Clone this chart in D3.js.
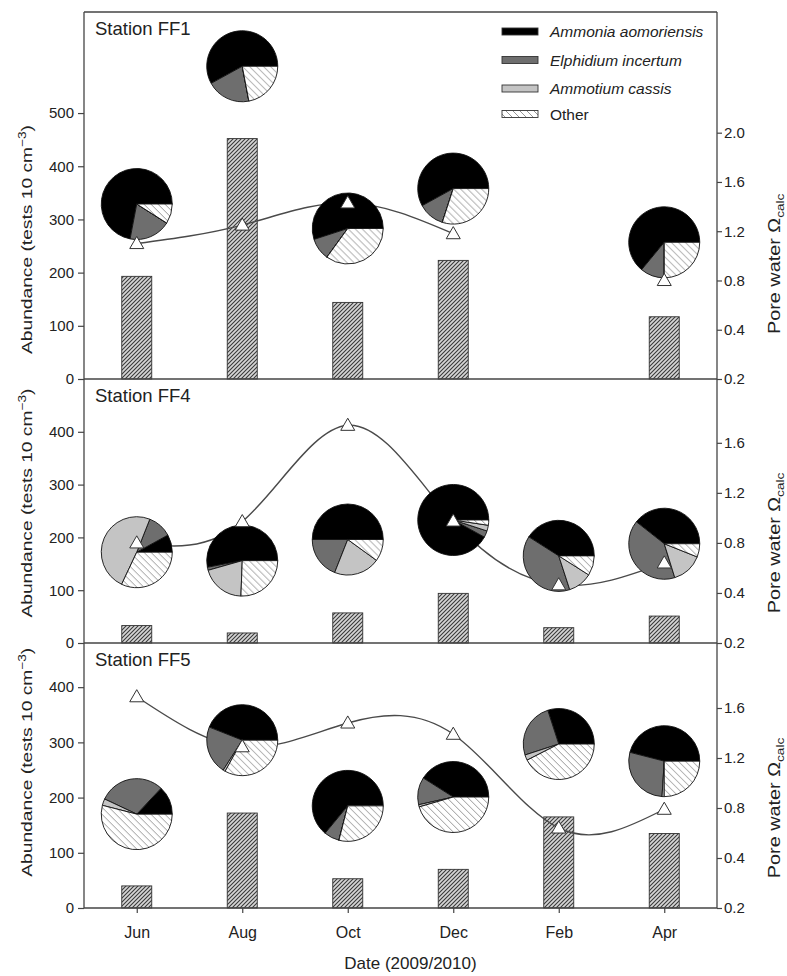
<!DOCTYPE html>
<html>
<head>
<meta charset="utf-8">
<script src="https://cdn.jsdelivr.net/npm/d3@7/dist/d3.min.js"></script>
<style>
  html, body { margin: 0; padding: 0; background: #fff; }
  svg { display: block; }
  text { font-family: "Liberation Sans", Arial, sans-serif; fill: #222; }
</style>
</head>
<body>
<svg id="chart" width="787" height="976"></svg>
<script>
// ---------------- DATA ----------------
const months = ["Jun", "Aug", "Oct", "Dec", "Feb", "Apr"];
const species = ["Ammonia aomoriensis", "Elphidium incertum", "Ammotium cassis", "Other"];
const stations = ["Station FF1", "Station FF4", "Station FF5"];

// Abundance (tests 10 cm-3), bars
const ff1Abundance = [193, 452, 144, 223, null, 117];
const ff4Abundance = [33, 19, 57, 94, 29, 51];
const ff5Abundance = [40, 172, 53, 70, 165, 135];

// Pore water Omega calc, triangles + spline
const ff1Omega = [1.10, 1.25, 1.43, 1.18, null, 0.80];
const ff4Omega = [0.80, 0.97, 1.74, 0.975, 0.465, 0.64];
const ff5Omega = [1.69, 1.29, 1.48, 1.39, 0.64, 0.79];

// Pie compositions: [Ammonia, Elphidium, Ammotium, Other]
const ff1Pies = [
  [0.72, 0.19, 0.00, 0.09],
  [0.58, 0.20, 0.00, 0.22],
  [0.55, 0.10, 0.00, 0.35],
  [0.58, 0.12, 0.00, 0.30],
  null,
  [0.64, 0.11, 0.00, 0.25]
];
const ff4Pies = [
  [0.08, 0.11, 0.49, 0.32],
  [0.53, 0.014, 0.20, 0.256],
  [0.50, 0.19, 0.21, 0.10],
  [0.92, 0.03, 0.026, 0.024],
  [0.41, 0.39, 0.11, 0.09],
  [0.39, 0.40, 0.14, 0.06]
];
const ff5Pies = [
  [0.13, 0.30, 0.03, 0.54],
  [0.44, 0.22, 0.01, 0.33],
  [0.64, 0.07, 0.00, 0.29],
  [0.41, 0.125, 0.01, 0.455],
  [0.30, 0.25, 0.025, 0.425],
  [0.46, 0.28, 0.01, 0.25]
];
// Where each pie is anchored (in abundance-axis units)
const ff1PieAnchor = [329, 588, 283, 358, null, 257];
const ff4PieAnchor = [172, 156, 196, 233, 165, 188];
const ff5PieAnchor = [170, 304, 185, 201, 297, 266];

// Axis ticks
const leftTicksFF1 = [0, 100, 200, 300, 400, 500];
const leftTicksOther = [0, 100, 200, 300, 400];
const rightTicksFF1 = [0, 0.4, 0.8, 1.2, 1.6, 2.0];
const rightTicksOther = [0, 0.4, 0.8, 1.2, 1.6];
const rightTickLabels = ["0.2", "0.4", "0.8", "1.2", "1.6", "2.0"];

// ---------------- LAYOUT ----------------
const svg = d3.select("#chart");
const X0 = 84, X1 = 717;
const panels = [
  { title: stations[0], top: 12,  bottom: 379, leftMax: 690, rightMax: 2.98, abundance: ff1Abundance, omega: ff1Omega, pies: ff1Pies, anchor: ff1PieAnchor, lt: leftTicksFF1, rt: rightTicksFF1, labelFrac: 0.62 },
  { title: stations[1], top: 379, bottom: 643, leftMax: 500, rightMax: 2.11, abundance: ff4Abundance, omega: ff4Omega, pies: ff4Pies, anchor: ff4PieAnchor, lt: leftTicksOther, rt: rightTicksOther, labelFrac: 0.47 },
  { title: stations[2], top: 643, bottom: 908, leftMax: 480, rightMax: 2.12, abundance: ff5Abundance, omega: ff5Omega, pies: ff5Pies, anchor: ff5PieAnchor, lt: leftTicksOther, rt: rightTicksOther, labelFrac: 0.45 }
];

const x = d3.scalePoint().domain(months).range([X0, X1]).padding(0.5);
const barW = 30;
const pieR = 35.5;
const sliceFill = ["#000000", "#6e6e6e", "#c4c4c4", "url(#otherHatch)"];
const axisColor = "#444";
const stretch = 1.24; // rotated axis titles are elongated in the original

// ---------------- PATTERNS ----------------
const defs = svg.append("defs");
const bp = defs.append("pattern").attr("id", "barHatch")
  .attr("patternUnits", "userSpaceOnUse").attr("width", 4).attr("height", 4);
bp.append("rect").attr("width", 4).attr("height", 4).attr("fill", "#d6d6d6");
bp.append("path").attr("d", "M-1,1 L1,-1 M0,4 L4,0 M3,5 L5,3")
  .attr("stroke", "#3a3a3a").attr("stroke-width", 1.1);

const op = defs.append("pattern").attr("id", "otherHatch")
  .attr("patternUnits", "userSpaceOnUse").attr("width", 7).attr("height", 7);
op.append("rect").attr("width", 7).attr("height", 7).attr("fill", "#fff");
op.append("path").attr("d", "M0,0 L7,7 M-1,6 L1,8 M6,-1 L8,1")
  .attr("stroke", "#8a8a8a").attr("stroke-width", 0.9);

const pie = d3.pie().sort(null).value(d => d)
  .startAngle(Math.PI / 2).endAngle(Math.PI / 2 - 2 * Math.PI);
const arc = d3.arc().innerRadius(0).outerRadius(pieR);

// ---------------- PANELS ----------------
panels.forEach((p, pi) => {
  const yL = d3.scaleLinear().domain([0, p.leftMax]).range([p.bottom, p.top]);
  const yR = d3.scaleLinear().domain([0, p.rightMax]).range([p.bottom, p.top]);
  const g = svg.append("g");

  // bars
  const barData = months.map((m, i) => ({ m, v: p.abundance[i] })).filter(d => d.v != null);
  g.selectAll("rect.bar").data(barData).enter().append("rect")
    .attr("class", "bar")
    .attr("x", d => x(d.m) - barW / 2)
    .attr("width", barW)
    .attr("y", d => yL(d.v))
    .attr("height", d => yL(0) - yL(d.v))
    .attr("fill", "url(#barHatch)")
    .attr("stroke", "#333").attr("stroke-width", 0.9);

  // spline line
  const lineData = months.map((m, i) => ({ m, v: p.omega[i] }));
  const line = d3.line().defined(d => d.v != null)
    .x(d => x(d.m)).y(d => yR(d.v)).curve(d3.curveNatural);
  g.append("path").datum(lineData).attr("d", line)
    .attr("fill", "none").attr("stroke", "#4a4a4a").attr("stroke-width", 1.4);

  // pies
  months.forEach((m, i) => {
    const comp = p.pies[i];
    if (!comp) return;
    const pg = g.append("g").attr("transform", `translate(${x(m)},${yL(p.anchor[i])})`);
    pg.selectAll("path").data(pie(comp)).enter().append("path")
      .attr("d", arc)
      .attr("fill", (d, k) => sliceFill[k])
      .attr("stroke", "#111").attr("stroke-width", 0.9)
      .attr("stroke-linejoin", "round");
  });

  // triangles
  const tri = d3.symbol().type(d3.symbolTriangle).size(85);
  g.selectAll("path.tri").data(lineData.filter(d => d.v != null)).enter().append("path")
    .attr("class", "tri")
    .attr("d", tri)
    .attr("transform", d => `translate(${x(d.m)},${yR(d.v) + 1})`)
    .attr("fill", "#fff").attr("stroke", "#333").attr("stroke-width", 1);

  // left axis
  const la = g.append("g").attr("transform", `translate(${X0},0)`)
    .call(d3.axisLeft(yL).tickValues(p.lt).tickSize(6).tickPadding(4).tickFormat(d3.format("d")));
  la.select(".domain").remove();
  la.selectAll("line").attr("stroke", axisColor).attr("stroke-width", 1.2);
  la.selectAll("text").style("font-size", "15px").style("font-family", "Liberation Sans, Arial, sans-serif").attr("fill", "#222");

  // right axis
  const ra = g.append("g").attr("transform", `translate(${X1},0)`)
    .call(d3.axisRight(yR).tickValues(p.rt).tickSize(5).tickPadding(2)
      .tickFormat((d, k) => rightTickLabels[k]));
  ra.select(".domain").remove();
  ra.selectAll("line").attr("stroke", axisColor).attr("stroke-width", 1.2);
  ra.selectAll("text").style("font-size", "15px").style("font-family", "Liberation Sans, Arial, sans-serif").attr("fill", "#222");

  // frame lines
  g.append("line").attr("x1", X0).attr("x2", X0).attr("y1", p.top).attr("y2", p.bottom)
    .attr("stroke", axisColor).attr("stroke-width", 1.3);
  g.append("line").attr("x1", X1).attr("x2", X1).attr("y1", p.top).attr("y2", p.bottom)
    .attr("stroke", axisColor).attr("stroke-width", 1.3);
  g.append("line").attr("x1", X0).attr("x2", X1).attr("y1", p.bottom).attr("y2", p.bottom)
    .attr("stroke", axisColor).attr("stroke-width", 1.3);
  if (pi === 0) {
    g.append("line").attr("x1", X0).attr("x2", X1).attr("y1", p.top).attr("y2", p.top)
      .attr("stroke", axisColor).attr("stroke-width", 1.3);
  }

  // station title
  g.append("text").attr("x", 95).attr("y", p.top + 23)
    .style("font-size", "18.5px").text(p.title);

  // left axis title
  const ly = p.top + p.labelFrac * (p.bottom - p.top);
  const lt = g.append("text")
    .attr("transform", `translate(32,${ly}) rotate(-90) scale(${stretch},1)`)
    .attr("text-anchor", "middle").style("font-size", "15.5px");
  lt.append("tspan").text("Abundance (tests 10 cm");
  lt.append("tspan").attr("dy", -6).style("font-size", "11px").text("\u22123");
  lt.append("tspan").attr("dy", 6).text(")");

  // right axis title
  const topTick = p.rt[p.rt.length - 1];
  const ry = (yR(0) + yR(topTick)) / 2 + (pi === 0 ? 8 : 0);
  const rt = g.append("text")
    .attr("transform", `translate(780,${ry}) rotate(-90) scale(${stretch},1)`)
    .attr("text-anchor", "middle").style("font-size", "16px");
  rt.append("tspan").text("Pore water \u03A9");
  rt.append("tspan").attr("dy", 4).style("font-size", "11px").text("calc");
});

// bottom x axis
const xa = svg.append("g").attr("transform", `translate(0,${panels[2].bottom})`)
  .call(d3.axisBottom(x).tickSize(5).tickPadding(14));
xa.select(".domain").remove();
xa.selectAll("line").attr("stroke", axisColor).attr("stroke-width", 1.2);
xa.selectAll("text").style("font-size", "16px").style("font-family", "Liberation Sans, Arial, sans-serif").attr("fill", "#222");

svg.append("text").attr("x", (X0 + X1) / 2 + 10).attr("y", 969)
  .attr("text-anchor", "middle").style("font-size", "17px").text("Date (2009/2010)");

// legend
const legend = svg.append("g");
const legendY = [31.5, 60, 88.5, 114];
species.forEach((s, k) => {
  const lg = legend.append("g").attr("transform", `translate(502,${legendY[k]})`);
  lg.append("rect").attr("x", 0).attr("y", -3.5).attr("width", 36).attr("height", 7)
    .attr("fill", sliceFill[k]).attr("stroke", "#333").attr("stroke-width", 0.9);
  lg.append("text").attr("x", 48).attr("y", 5.5)
    .style("font-size", "15.5px")
    .style("font-style", k < 3 ? "italic" : "normal")
    .text(s);
});
</script>
</body>
</html>
